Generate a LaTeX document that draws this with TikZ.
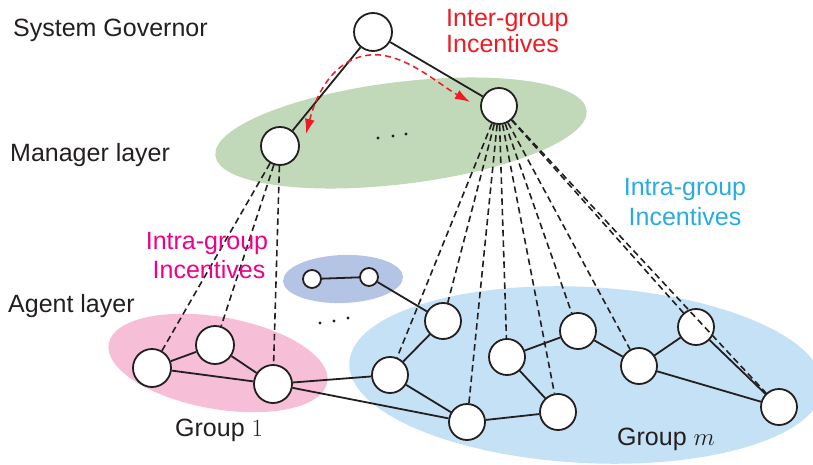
\documentclass[tikz,border=0pt]{standalone}
\usepackage{fontspec}
\setmainfont{Liberation Sans}
\usetikzlibrary{arrows.meta,shapes.geometric}
\definecolor{ink}{HTML}{231F20}
\definecolor{interred}{HTML}{ED1C24}
\definecolor{intracyan}{HTML}{29ABE2}
\definecolor{intramag}{HTML}{EC008C}
\definecolor{mgrgreen}{HTML}{C1D9B9}
\definecolor{grppink}{HTML}{F6BFD7}
\definecolor{grpblue}{HTML}{C4E1F5}
\definecolor{grpperi}{HTML}{B4C4E4}
\begin{document}
\begin{tikzpicture}[x=1pt,y=-1pt,
  agent/.style={circle,draw=ink,fill=white,line width=1.8pt,minimum size=36pt,inner sep=0pt},
  tiny/.style={agent,minimum size=18pt},
  link/.style={draw=ink,line width=1.8pt},
  ctrl/.style={draw=ink,line width=1.6pt,dash pattern=on 6.5pt off 4pt},
  region/.style={ellipse,draw=none,inner sep=0pt},
  lbl/.style={font=\fontsize{25}{26}\selectfont,inner sep=0pt,text=ink},
]
\clip (0,0) rectangle (813,465);

% layer and group regions
\node[region,fill=mgrgreen,minimum width=374pt,minimum height=102pt,rotate=7] (mgrzone) at (401,133) {};
\node[region,fill=grppink,minimum width=222pt,minimum height=92pt,rotate=-10] (zone1) at (218,363) {};
\node[region,fill=grpperi,minimum width=120pt,minimum height=48pt,rotate=2] (zone2) at (343,279) {};
\node[region,fill=grpblue,minimum width=474pt,minimum height=176pt,rotate=-3] (zonem) at (586,375) {};

% governor and managers
\node[agent,minimum size=38pt] (G) at (373,32) {};
\node[agent,minimum size=38pt] (M1) at (280,146) {};
\node[agent] (M2) at (499,106) {};

% group 1
\node[agent,minimum size=38pt] (A1) at (152,368) {};
\node[agent,minimum size=38pt] (A2) at (215,345) {};
\node[agent,minimum size=38pt] (A3) at (273,384) {};

% small group
\node[tiny] (S1) at (312,279) {};
\node[tiny] (S2) at (369,277) {};

% group m
\node[agent] (B1) at (390,375) {};
\node[agent] (B2) at (443,321) {};
\node[agent] (B3) at (467,422) {};
\node[agent] (B4) at (507,357) {};
\node[agent] (B5) at (558,412) {};
\node[agent] (B6) at (578,331) {};
\node[agent] (B7) at (639,366) {};
\node[agent] (B8) at (696,327) {};
\node[agent] (B9) at (779,407) {};

% hierarchy links
\draw[link] (G) -- (M1);
\draw[link] (G) -- (M2);

% agent interaction links
\draw[link] (A1) -- (A2);
\draw[link] (A2) -- (A3);
\draw[link] (A1) -- (A3);
\draw[link] (A3) -- (B1);
\draw[link] (A3) -- (B3);
\draw[link] (S1) -- (S2);
\draw[link] (S2) -- (B2);
\draw[link] (B1) -- (B2);
\draw[link] (B1) -- (B3);
\draw[link] (B3) -- (B5);
\draw[link] (B4) -- (B5);
\draw[link] (B4) -- (B6);
\draw[link] (B6) -- (B7);
\draw[link] (B7) -- (B8);
\draw[link] (B7) -- (B9);
\draw[link] (B8) -- (B9);

% manager-to-agent control links
\foreach \a in {A1,A2,A3} \draw[ctrl] (M1) -- (\a);
\foreach \b in {B1,B2,B3,B4,B5,B6,B7,B8,B9} \draw[ctrl] (M2) -- (\b);

% inter-group incentive arrow
\coordinate (redL) at (306,134);
\coordinate (redR) at (470,102);
\draw[interred,line width=1.5pt,dash pattern=on 6pt off 4pt,
      {Latex[length=15pt,width=10pt]}-{Latex[length=15pt,width=10pt]}]
  (redL) .. controls (320,80) and (345,52) .. (380,55)
         .. controls (410,58) and (440,85) .. (redR);

% ellipsis dots
\foreach \x/\y in {378/138,393/136,406/134,320/323,334/321,348/318}
  \fill[ink] (\x,\y) circle (1.7pt);

% labels
\node[lbl,anchor=base west] (gov) at (13,37) {System Governor};
\node[lbl,anchor=base west] (mgr) at (10,162) {Manager layer};
\node[lbl,anchor=base west] (agt) at (8,312) {Agent layer};
\node[lbl,text=interred,anchor=base west] (inter1) at (446,27) {Inter-group};
\node[lbl,text=interred,anchor=base west] (inter2) at (446,53) {Incentives};
\node[lbl,text=intracyan,anchor=base] (intram1) at (685,196) {Intra-group};
\node[lbl,text=intracyan,anchor=base] (intram2) at (685,225) {Incentives};
\node[lbl,text=intramag,anchor=base] (intra11) at (207,249) {Intra-group};
\node[lbl,text=intramag,anchor=base] (intra12) at (209,278) {Incentives};
\node[lbl,anchor=base west] (g1) at (175,436) {Group $1$};
\node[lbl,anchor=base west] (gm) at (617,445) {Group $m$};
\end{tikzpicture}
\end{document}
